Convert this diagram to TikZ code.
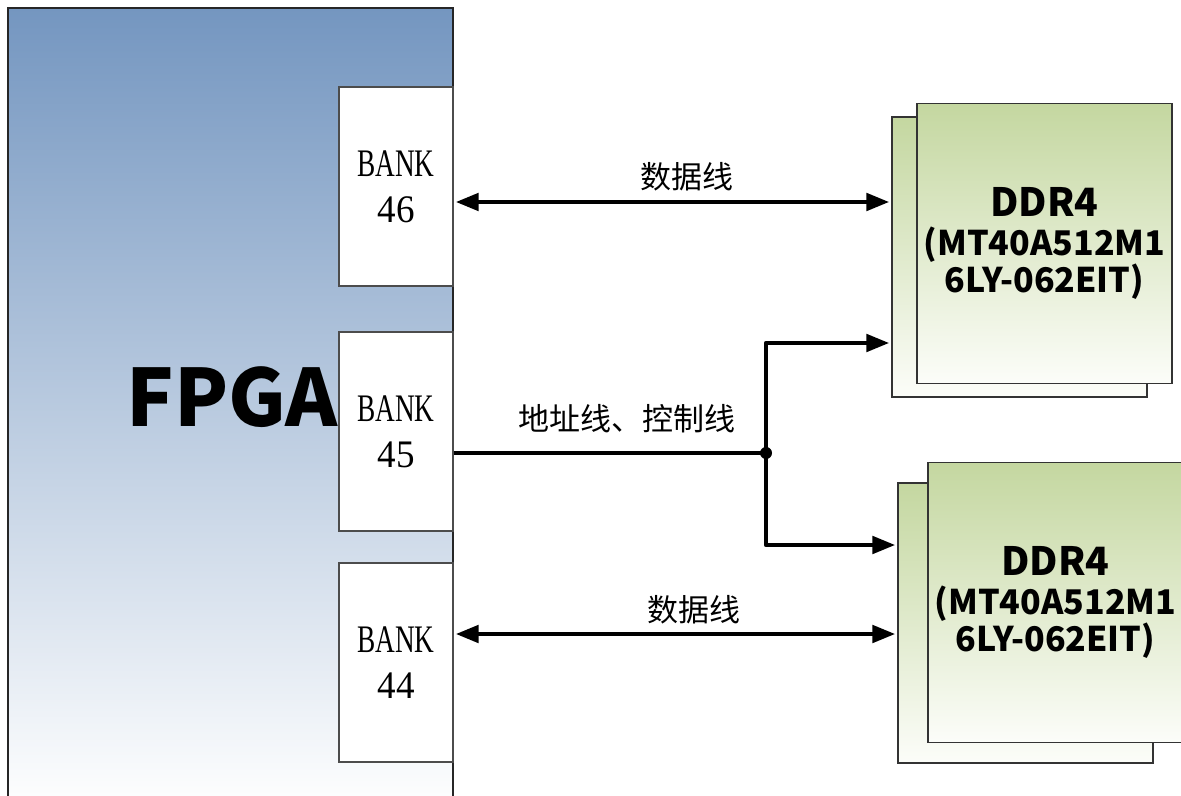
\documentclass[tikz,border=0pt]{standalone}
\usepackage{fontspec}
\setmainfont{Liberation Serif}
\newfontfamily\cjk{Noto Sans CJK SC}
\usetikzlibrary{arrows.meta}

\definecolor{fpgablue}{RGB}{116,150,192}
\definecolor{ddrgreen}{RGB}{196,215,160}
\definecolor{ddrwhite}{RGB}{252,253,249}

\newcommand{\banktext}[1]{\scalebox{0.7}[1]{BANK}\\\scalebox{0.95}[1]{#1}}
\newcommand{\ddrtext}{{\fontsize{19.5}{19.5}\selectfont DDR4}\\[2pt](MT40A512M1\\6LY-062EIT)}

\begin{document}
\begin{tikzpicture}[x=0.5pt, y=-0.5pt,
    bankbox/.style={draw=black!70, line width=0.6pt, fill=white, rectangle, inner sep=0pt,
        minimum width=57pt, minimum height=99.5pt, align=center,
        font=\fontsize{19.5}{23}\selectfont},
    chipback/.style={draw=black!80, line width=0.6pt, top color=ddrgreen, bottom color=ddrwhite,
        rectangle, inner sep=0pt, minimum width=127.5pt, minimum height=140pt},
    chip/.style={chipback, align=center, font=\cjk\bfseries\fontsize{17}{17.5}\selectfont},
    buslabel/.style={font=\cjk\fontsize{15.5}{15.5}\selectfont},
    link/.style={line width=2.4pt, line join=round, -{Triangle[length=11.5pt,width=8.5pt]}},
    duplex/.style={link, {Triangle[length=11.5pt,width=8.5pt]}-{Triangle[length=11.5pt,width=8.5pt]}}]
    \useasboundingbox (0,0) rectangle (1181,796);
    \clip (0,0) rectangle (1181,796);

    % FPGA
    \draw [draw=black!85, line width=0.7pt, top color=fpgablue, bottom color=white] (8,8) rectangle (453,812);
    \node [font=\cjk\bfseries\fontsize{39.5}{40}\selectfont, inner sep=0pt] (fpga) at (232,397) {FPGA};

    % banks
    \node [bankbox] (bank46) at (396,186.5) {\banktext{46}};
    \node [bankbox] (bank45) at (396,431.5) {\banktext{45}};
    \node [bankbox] (bank44) at (396,662.5) {\banktext{44}};

    % DDR4 chips
    \node [chipback] (ddrAback) at (1019.5,257) {};
    \node [chip] (ddrA) at (1044.5,243.5) {\ddrtext};
    \node [chipback] (ddrBback) at (1025.5,623) {};
    \node [chip] (ddrB) at (1055.5,602.5) {\ddrtext};

    % buses
    \coordinate (split) at (766,453);
    \draw [duplex, shorten <=1pt, shorten >=1pt] (bank46.east |- 0,202) -- (ddrAback.west |- 0,202);
    \draw [link, shorten >=1pt] (bank45.east |- split) -- (split) |- (ddrAback.west |- 0,343);
    \draw [link, shorten >=1pt] (split) |- (ddrBback.west |- 0,545);
    \draw [duplex, shorten <=1pt, shorten >=1pt] (bank44.east |- 0,634) -- (ddrBback.west |- 0,634);
    \fill (split) circle (3pt);

    \node [buslabel] (dataA) at (687,177) {数据线};
    \node [buslabel] (ctrl) at (627,419) {地址线、控制线};
    \node [buslabel] (dataB) at (694,610) {数据线};
\end{tikzpicture}
\end{document}
